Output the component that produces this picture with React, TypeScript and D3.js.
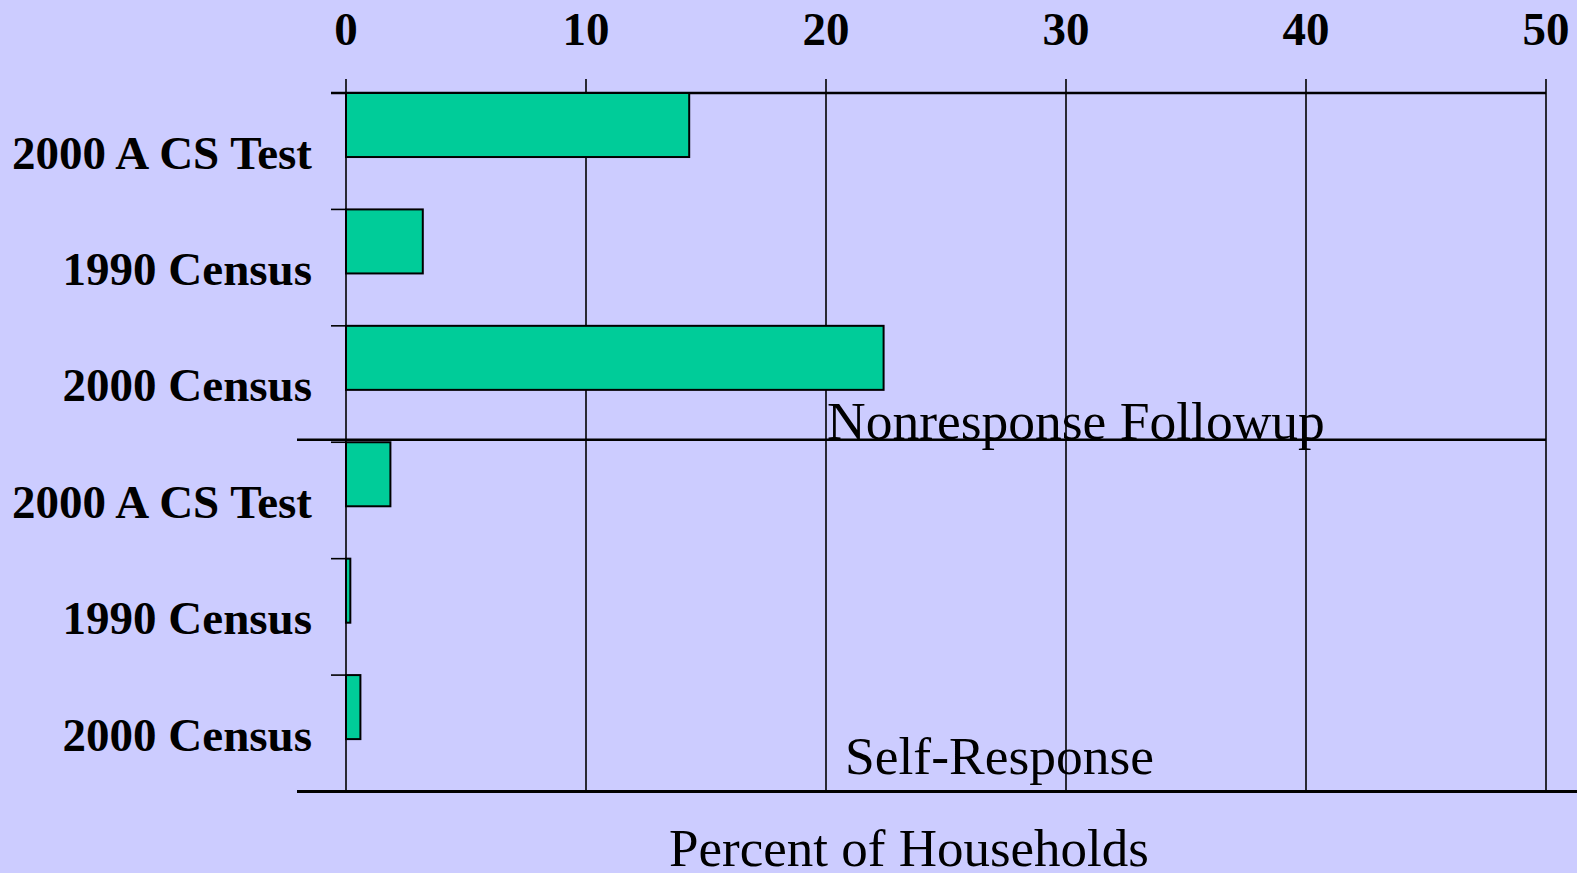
import React from "react";
import * as d3 from "d3";

// 値は図から読み取ったもの（%）
const categories = [
  "2000 ACS Test",
  "1990 Census",
  "2000 Census",
  "2000 ACS Test",
  "1990 Census",
  "2000 Census",
];
const values = [14.3, 3.2, 22.4, 1.85, 0.18, 0.6];
const groups = ["Nonresponse Followup", "Self-Response"];
const xTicks = [0, 10, 20, 30, 40, 50];

const W = 1577;
const H = 873;
const FONT = '"Liberation Serif", "Times New Roman", serif';

// "ACS" の A と C の間が少し空いているのを再現
const renderLabel = (label: string) => {
  const k = label.indexOf("ACS");
  if (k < 0) return label;
  return (
    <>
      {label.slice(0, k + 1)}
      <tspan dx={10}>{label.slice(k + 1)}</tspan>
    </>
  );
};

const App = () => {
  const xScale = d3.scaleLinear().domain([0, 50]).range([346, 1546]);
  const yScale = d3
    .scaleBand<number>()
    .domain(d3.range(categories.length))
    .range([93, 791.5])
    .paddingInner(0)
    .paddingOuter(0);
  const step = yScale.step();
  const barH = step * 0.55;

  const top = yScale(0)!;
  const bottom = yScale.range()[1];
  const sepY = yScale(3)! - 2.5;

  return (
    <svg
      width={W}
      height={H}
      style={{ position: "absolute", left: 0, top: 0 }}
      fontFamily={FONT}
    >
      <rect x={0} y={0} width={W} height={H} fill="#CCCCFF" />

      {/* 縦のグリッド線と上部の目盛り */}
      {xTicks.map((t) => (
        <g key={t}>
          <line
            x1={xScale(t)}
            x2={xScale(t)}
            y1={top - 14}
            y2={bottom}
            stroke="#000"
            strokeWidth={1.6}
          />
          <text
            x={xScale(t)}
            y={45}
            textAnchor="middle"
            fontSize={47}
            fontWeight="bold"
          >
            {t}
          </text>
        </g>
      ))}

      {/* 上の軸線 */}
      <line
        x1={xScale(0) - 15}
        x2={xScale(50)}
        y1={top}
        y2={top}
        stroke="#000"
        strokeWidth={2.4}
      />

      {/* 棒 */}
      {values.map((v, i) => (
        <g key={i}>
          <rect
            x={xScale(0)}
            y={yScale(i)!}
            width={xScale(v) - xScale(0)}
            height={barH}
            fill="#00CC99"
            stroke="#000"
            strokeWidth={2}
          />
          <line
            x1={xScale(0) - 15}
            x2={xScale(0)}
            y1={yScale(i)!}
            y2={yScale(i)!}
            stroke="#000"
            strokeWidth={1.6}
          />
          <text
            x={312}
            y={yScale(i)! + step / 2}
            dy="0.37em"
            textAnchor="end"
            fontSize={47}
            fontWeight="bold"
          >
            {renderLabel(categories[i])}
          </text>
        </g>
      ))}

      {/* 区切り線と下の線 */}
      <line
        x1={297}
        x2={xScale(50)}
        y1={sepY}
        y2={sepY}
        stroke="#000"
        strokeWidth={2.6}
      />
      <line
        x1={297}
        x2={W}
        y1={bottom}
        y2={bottom}
        stroke="#000"
        strokeWidth={3}
      />

      {/* グループ名 */}
      <text x={xScale(20) + 1} y={439} fontSize={53.5}>
        {groups[0]}
      </text>
      <text x={845} y={774} fontSize={53.5}>
        {groups[1]}
      </text>

      {/* x軸タイトル */}
      <text x={909} y={866} textAnchor="middle" fontSize={53}>
        Percent of Households
      </text>
    </svg>
  );
};

export default App;
